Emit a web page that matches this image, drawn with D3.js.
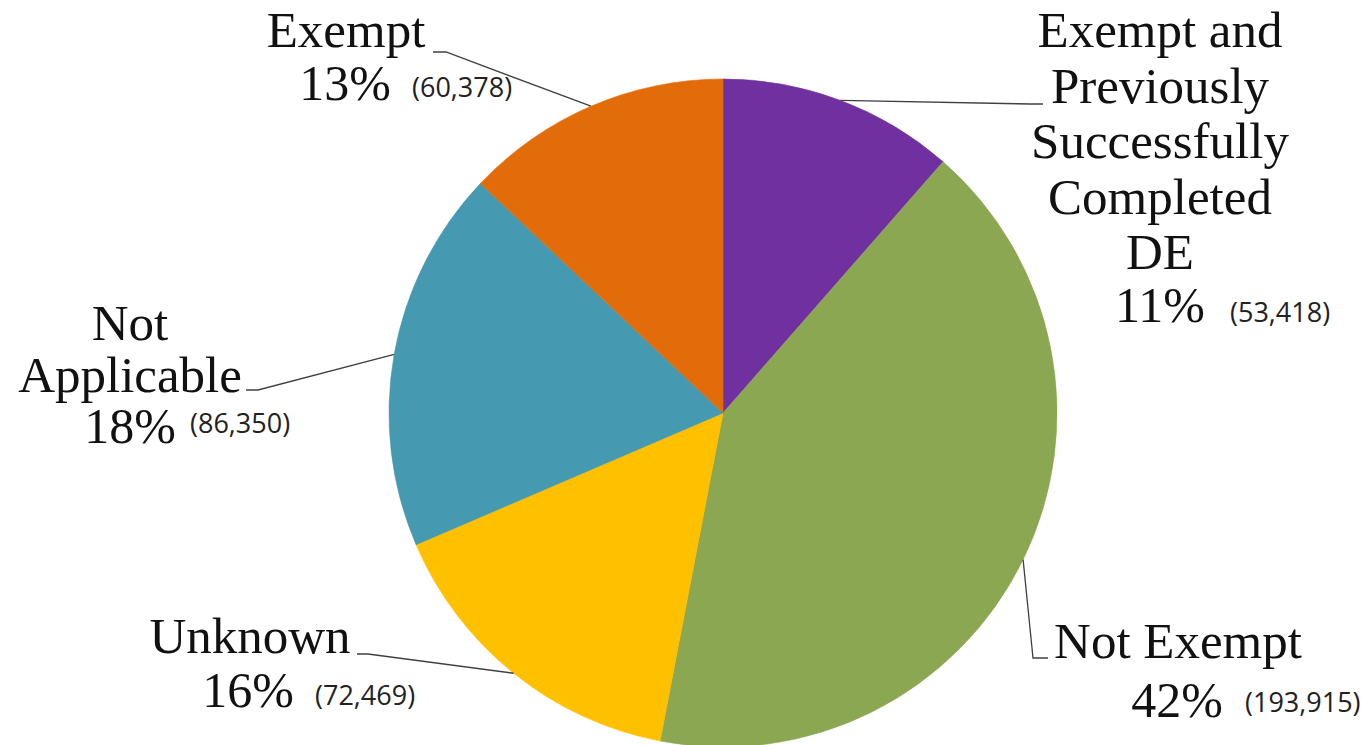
<!DOCTYPE html>
<html>
<head>
<meta charset="utf-8">
<script src="https://cdn.jsdelivr.net/npm/d3@7"></script>
<style>
  body { margin: 0; background: #fff; }
  svg { display: block; }
</style>
</head>
<body>
<div id="chart"></div>
<script>
// Data (clockwise from 12 o'clock)
var categories = ["Exempt and Previously Successfully Completed DE", "Not Exempt", "Unknown", "Not Applicable", "Exempt"]
var counts = [53418, 193915, 72469, 86350, 60378]
var percentLabels = ["11%", "42%", "16%", "18%", "13%"]
var countLabels = ["(53,418)", "(193,915)", "(72,469)", "(86,350)", "(60,378)"]
var colors = ["#7030a0", "#8ba751", "#ffc000", "#4599b0", "#e36c0a"]

var svgWidth = 1366,
    svgHeight = 745,
    cx = 723,
    cy = 413,
    radius = 334

var svg = d3.select("#chart").append("svg")
    .attr("width", svgWidth).attr("height", svgHeight)

var pieGroup = svg.append("g").attr("transform", `translate(${cx}, ${cy})`)

var pie = d3.pie().sort(null).value(function(d) { return d; })
var arcs = pie(counts)
var arc = d3.arc().innerRadius(0).outerRadius(radius)

pieGroup.selectAll("path")
    .data(arcs)
    .enter()
    .append("path")
        .attr("d", arc)
        .attr("fill", function(d, i) { return colors[i]; })
        .attr("stroke", function(d, i) { return colors[i]; }) // hide the hairline seams
        .attr("stroke-width", 0.6)

// label layout: text lines, centre x, first baseline, line gap, leader elbow + end
var layout = [
    {lines: ["Exempt and", "Previously", "Successfully", "Completed", "DE"], x: 1160, y: 47, gap: 55.5,
     pct: [1160, 322], cnt: [1230, 322], leader: [[1030, 104], [1043, 104]]},
    {lines: ["Not Exempt"], x: 1178, y: 658, gap: 55,
     pct: [1177, 717], cnt: [1245, 712], leader: [[1033, 658], [1048, 658]]},
    {lines: ["Unknown"], x: 250, y: 653, gap: 55,
     pct: [248, 707], cnt: [315, 705], leader: [[368, 654], [357, 654]]},
    {lines: ["Not", "Applicable"], x: 130, y: 340, gap: 52,
     pct: [130, 443], cnt: [190, 433], leader: [[258, 390], [246, 390]]},
    {lines: ["Exempt"], x: 346, y: 47, gap: 55,
     pct: [345, 100], cnt: [412, 97], leader: [[446, 52], [433, 52]]}
]

var serif = "'Liberation Serif', 'Times New Roman', serif"
var sans = "'Open Sans', 'Noto Sans', sans-serif"

arcs.forEach(function(a, i) {
    var L = layout[i]
    var mid = (a.startAngle + a.endAngle) / 2
    var px = cx + radius * Math.sin(mid),
        py = cy - radius * Math.cos(mid)

    // leader line from the slice edge to the label
    svg.append("path")
        .attr("d", d3.line()([[px, py], L.leader[0], L.leader[1]]))
        .attr("fill", "none")
        .attr("stroke", "#404040")
        .attr("stroke-width", 1.3)

    var t = svg.append("text")
        .attr("text-anchor", "middle")
        .attr("font-family", serif)
        .attr("font-size", 51)
        .attr("fill", "#111")
    L.lines.forEach(function(line, j) {
        t.append("tspan").attr("x", L.x).attr("y", L.y + j * L.gap).text(line)
    })

    svg.append("text")
        .attr("x", L.pct[0]).attr("y", L.pct[1])
        .attr("text-anchor", "middle")
        .attr("font-family", serif)
        .attr("font-size", 50)
        .attr("fill", "#111")
        .text(percentLabels[i])

    svg.append("text")
        .attr("x", L.cnt[0]).attr("y", L.cnt[1])
        .attr("font-family", sans)
        .attr("font-size", 27)
        .attr("fill", "#222")
        .text(countLabels[i])
})
</script>
</body>
</html>
